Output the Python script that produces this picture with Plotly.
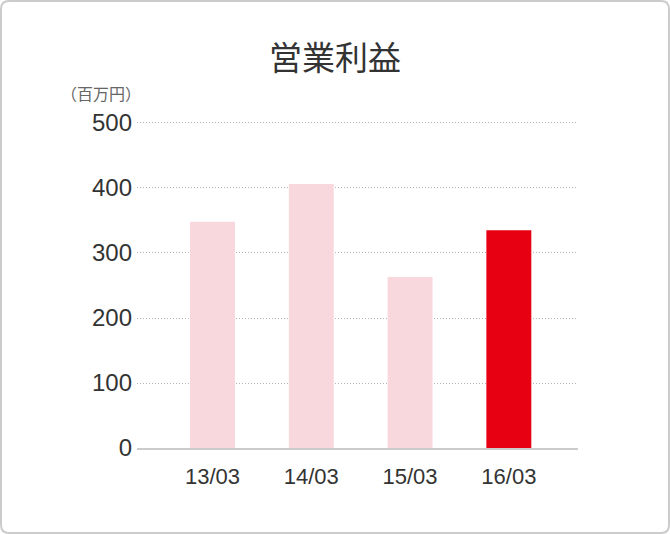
import plotly.graph_objects as go

categories = ["13/03", "14/03", "15/03", "16/03"]
values = [348, 406, 263, 335]
bar_colors = ["#f9d8dd", "#f9d8dd", "#f9d8dd", "#e60012"]
y_ticks = [0, 100, 200, 300, 400, 500]
title_text = "営業利益"
unit_text = "（百万円）"

W, H = 670, 534
L, R, T, B = 137, 92, 120, 86
pw, ph = W - L - R, H - T - B

def px(x):
    return (x - L) / pw

def py(y):
    return (H - B - y) / ph

fig = go.Figure(go.Bar(
    x=categories, y=values, marker=dict(color=bar_colors, line=dict(width=0)),
    width=0.455, hoverinfo="skip"))

# rounded frame
x0, x1, y0, y1, r = 1, 669, 1, 533, 8
path = (f"M {px(x0+r)},{py(y0)} L {px(x1-r)},{py(y0)} Q {px(x1)},{py(y0)} {px(x1)},{py(y0+r)} "
        f"L {px(x1)},{py(y1-r)} Q {px(x1)},{py(y1)} {px(x1-r)},{py(y1)} "
        f"L {px(x0+r)},{py(y1)} Q {px(x0)},{py(y1)} {px(x0)},{py(y1-r)} "
        f"L {px(x0)},{py(y0+r)} Q {px(x0)},{py(y0)} {px(x0+r)},{py(y0)} Z")

fig.update_layout(
    width=W, height=H,
    margin=dict(l=L, r=R, t=T, b=B, pad=0),
    paper_bgcolor="white", plot_bgcolor="white",
    showlegend=False,
    title=dict(text=title_text, x=0.5, xanchor="center", xref="container",
               y=1 - 58 / H, yanchor="middle", yref="container",
               font=dict(family="Noto Sans CJK JP", size=33, color="#333333")),
    shapes=[dict(type="path", path=path, xref="paper", yref="paper",
                 line=dict(color="#cccccc", width=2), fillcolor="rgba(0,0,0,0)", layer="below")],
    annotations=[dict(text=unit_text, x=px(59), y=py(93), xref="paper", yref="paper",
                      xanchor="left", yanchor="middle", showarrow=False,
                      font=dict(family="Noto Sans CJK JP", size=16, color="#666666"))],
    xaxis=dict(range=[-0.764, 3.70], showgrid=False, showline=True, linecolor="#cccccc",
               linewidth=2, ticks="", ticklabelstandoff=8,
               tickfont=dict(family="Liberation Sans", size=22, color="#333333")),
    yaxis=dict(range=[0, 504.6], tickvals=y_ticks, showgrid=True, gridcolor="#b4b4b4",
               griddash="1px,2px", gridwidth=1, zeroline=False, showline=False, ticks="",
               ticklabelstandoff=4,
               tickfont=dict(family="Liberation Sans", size=24, color="#333333")),
)

fig.write_html("out.html", config={"displayModeBar": False},
               post_script="document.body.style.margin='0';document.body.style.padding='0';")
